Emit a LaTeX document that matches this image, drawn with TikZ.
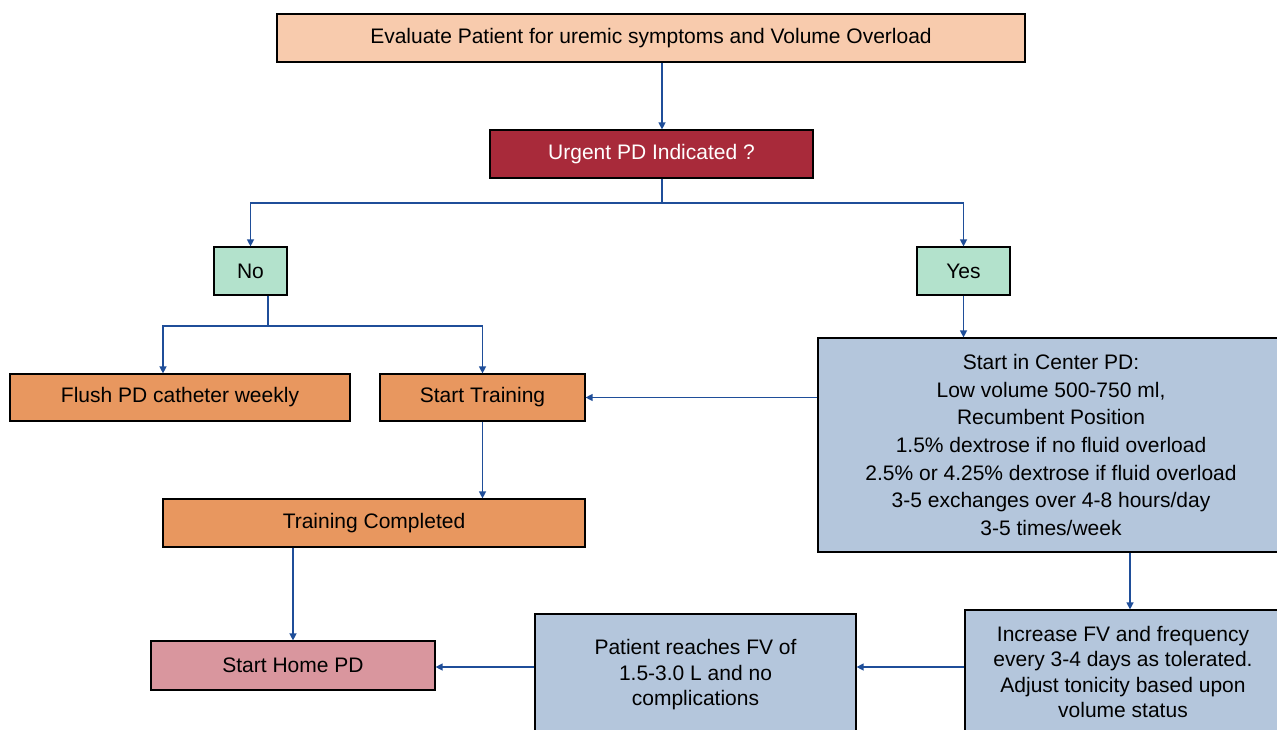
\documentclass[tikz,border=0pt]{standalone}
\usepackage{fontspec}
\setmainfont{Liberation Sans}
\usetikzlibrary{arrows.meta}
\definecolor{peach}{HTML}{F8CBAD}
\definecolor{urgred}{HTML}{A82A3A}
\definecolor{mint}{HTML}{B3E2CC}
\definecolor{orng}{HTML}{E8975F}
\definecolor{steel}{HTML}{B4C6DC}
\definecolor{rosy}{HTML}{D9969E}
\definecolor{arrblue}{HTML}{1F4E99}
\tikzset{
  box/.style={draw=black, line width=1.2pt, inner sep=0pt, align=center,
    font=\fontsize{21}{26}\selectfont},
  arr/.style={draw=arrblue, line width=1.3pt, -{Triangle[length=7pt,width=7pt]}},
  ln/.style={draw=arrblue, line width=1.3pt}
}
\begin{document}
\begin{tikzpicture}[x=1pt,y=-1pt]
\useasboundingbox (0,0) rectangle (1277,730);
\clip (0,0) rectangle (1277,730);
\fill[white] (0,0) rectangle (1277,730);

\node[box, fill=peach, minimum width=748pt, minimum height=48pt] (top) at (651,38) {Evaluate Patient for uremic symptoms and Volume Overload};
\node[box, fill=urgred, text=white, minimum width=323pt, minimum height=48pt] (urg) at (651.5,154) {Urgent PD Indicated ?};
\node[box, fill=mint, minimum width=73pt, minimum height=48pt] (no) at (250.5,271) {No};
\node[box, fill=mint, minimum width=93pt, minimum height=48pt] (yes) at (963.5,271) {Yes};
\node[box, fill=orng, minimum width=340pt, minimum height=47pt] (flush) at (180,397.5) {Flush PD catheter weekly};
\node[box, fill=orng, minimum width=205pt, minimum height=47pt] (st) at (482.5,397.5) {Start Training};
\node[box, fill=steel, minimum width=466pt, minimum height=214pt, font=\fontsize{21}{27.6}\selectfont] (ctr) at (1051,445) {Start in Center PD:\\Low volume 500-750 ml,\\Recumbent Position\\1.5\% dextrose if no fluid overload\\2.5\% or 4.25\% dextrose if fluid overload\\3-5 exchanges over 4-8 hours/day\\3-5 times/week};
\node[box, fill=orng, minimum width=422pt, minimum height=48pt] (tc) at (374,523) {Training Completed};
\node[box, fill=rosy, minimum width=284pt, minimum height=49pt] (home) at (293,665.5) {Start Home PD};
\node[box, fill=steel, minimum width=321pt, minimum height=122pt, font=\fontsize{21}{25.5}\selectfont] (pat) at (695.5,675) {Patient reaches FV of\\1.5-3.0 L and no\\complications};
\node[box, fill=steel, minimum width=316pt, minimum height=124pt, font=\fontsize{21}{25.5}\selectfont] (inc) at (1123,672) {Increase FV and frequency\\every 3-4 days as tolerated.\\Adjust tonicity based upon\\volume status};

\coordinate (u1) at (662,0);
\coordinate (j1) at (662,203);
\coordinate (n1) at (268,0);
\coordinate (j2) at (268,326);
\coordinate (f1) at (163,0);
\coordinate (c1) at (1130,0);

\draw[arr] (top.south -| u1) -- (urg.north -| u1);
\draw[ln] (urg.south -| u1) -- (j1);
\draw[arr] (j1) -| (no.north);
\draw[arr] (j1) -| (yes.north);
\draw[ln] (no.south -| n1) -- (j2);
\draw[arr] (j2) -| (flush.north -| f1);
\draw[arr] (j2) -| (st.north);
\draw[arr] (yes.south) -- (yes.south |- ctr.north);
\draw[arr] (ctr.west |- st.east) -- (st.east);
\draw[arr] (st.south) -- (st.south |- tc.north);
\draw[arr] (tc.south -| home.north) -- (home.north);
\draw[arr] (ctr.south -| c1) -- (inc.north -| c1);
\draw[arr] (inc.west |- 0,667) -- (pat.east |- 0,667);
\draw[arr] (pat.west |- 0,667) -- (home.east |- 0,667);
\end{tikzpicture}
\end{document}
